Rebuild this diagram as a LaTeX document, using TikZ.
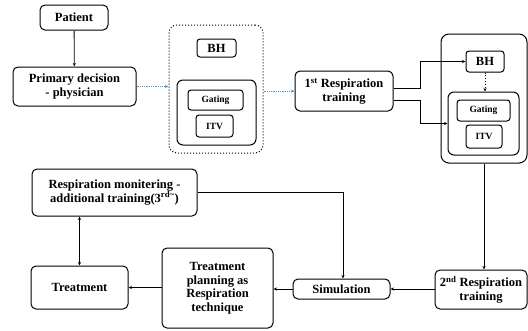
\documentclass[tikz,border=0pt]{standalone}
\usepackage{fontspec}
\setmainfont{Liberation Serif}
\usetikzlibrary{positioning}
\usetikzlibrary{arrows.meta}

\definecolor{flowblue}{RGB}{80,150,205}

\tikzset{
	box/.style = {draw, line width = 1pt, rounded corners = 5pt, align = center, font = \fontsize{12.5}{13.5}\selectfont\bfseries, inner sep = 1pt},
	smallbox/.style = {draw, line width = 1pt, rounded corners = 3pt, align = center, font = \fontsize{9.5}{10}\selectfont\bfseries},
	group/.style = {draw, line width = 1pt, rounded corners = 8pt},
	arr/.style = {line width = 0.8pt, -{Stealth[length = 3.5pt, width = 3pt]}},
	bluearr/.style = {flowblue, densely dotted, line width = 0.8pt, -{Stealth[length = 3.5pt, width = 3pt]}}
}

\begin{document}
\begin{tikzpicture}[x = 1pt, y = -1pt]
							\useasboundingbox (0, 0) rectangle (528, 330);
							% first row
							\node [box, minimum width = 68, minimum height = 25] (patient) at (74, 17.5) {Patient};
							\node [box, minimum width = 123, minimum height = 39] (primary) at (74.5, 86.5) {Primary decision\\- physician};
							\node [group, dotted, minimum width = 94, minimum height = 128] (outerA) at (216, 89) {};
							\node [box, minimum width = 39, minimum height = 18, rounded corners = 3pt] (bhA) at (216.5, 48) {BH};
							\node [group, rounded corners = 6pt, minimum width = 79, minimum height = 65] (innerA) at (216.5, 112.5) {};
							\node [smallbox, minimum width = 55, minimum height = 20] (gatingA) at (215.5, 100) {Gating};
							\node [smallbox, minimum width = 37, minimum height = 22] (itvA) at (214.5, 126) {ITV};
							\node [box, minimum width = 98, minimum height = 40] (first) at (344, 91) {1\textsuperscript{st} Respiration\\training};
							\node [group, minimum width = 86, minimum height = 129] (outerB) at (484, 98.5) {};
							\node [box, minimum width = 38, minimum height = 21, rounded corners = 3pt] (bhB) at (485, 61.5) {BH};
							\node [group, rounded corners = 6pt, minimum width = 71, minimum height = 63] (innerB) at (483.5, 123.5) {};
							\node [smallbox, minimum width = 53, minimum height = 21] (gatingB) at (483.5, 110.5) {Gating};
							\node [smallbox, minimum width = 36, minimum height = 23] (itvB) at (484, 136.5) {ITV};
							% second row
							\node [box, minimum width = 165, minimum height = 47] (monitor) at (114.5, 192.5) {Respiration monitering -\\additional training(3\textsuperscript{rd\textasciitilde})};
							\node [box, minimum width = 97, minimum height = 43] (treat) at (79.5, 287.5) {Treatment};
							\node [box, minimum width = 111, minimum height = 80] (plan) at (217.5, 288) {Treatment\\planning as\\Respiration\\technique};
							\node [box, minimum width = 97, minimum height = 20] (sim) at (341.5, 289) {Simulation};
							\node [box, minimum width = 92, minimum height = 39] (second) at (481, 289.5) {2\textsuperscript{nd} Respiration\\training};
							% connectors
							\draw [arr] (patient) -- (primary);
							\draw [bluearr] (primary.east) -- (primary.east -| outerA.west);
							\draw [bluearr] (outerA.east |- first.west) -- (first.west);
							\draw [arr] ([yshift = 3pt] first.east) -- ++(27, 0) |- (bhB.west);
							\draw [arr] ([yshift = -9pt] first.east) -- ++(27, 0) |- (innerB.west);
							\draw [arr, dotted] (bhB.south) -- (bhB.south |- innerB.north);
							\draw [arr] (outerB.south) -- (outerB.south |- second.north);
							\draw [arr] (second.west |- sim) -- (sim.east);
							\draw [arr] (sim.west) -- (sim.west -| plan.east);
							\draw [arr] (plan.west |- treat) -- (treat.east);
							\draw [line width = 0.8pt, {Stealth[length = 3.5pt, width = 3pt]}-{Stealth[length = 3.5pt, width = 3pt]}] (treat.north) -- (treat.north |- monitor.south);
							\draw [arr] (monitor.east) -| ([xshift = 1.5pt] sim.north);
						\end{tikzpicture}
\end{document}
